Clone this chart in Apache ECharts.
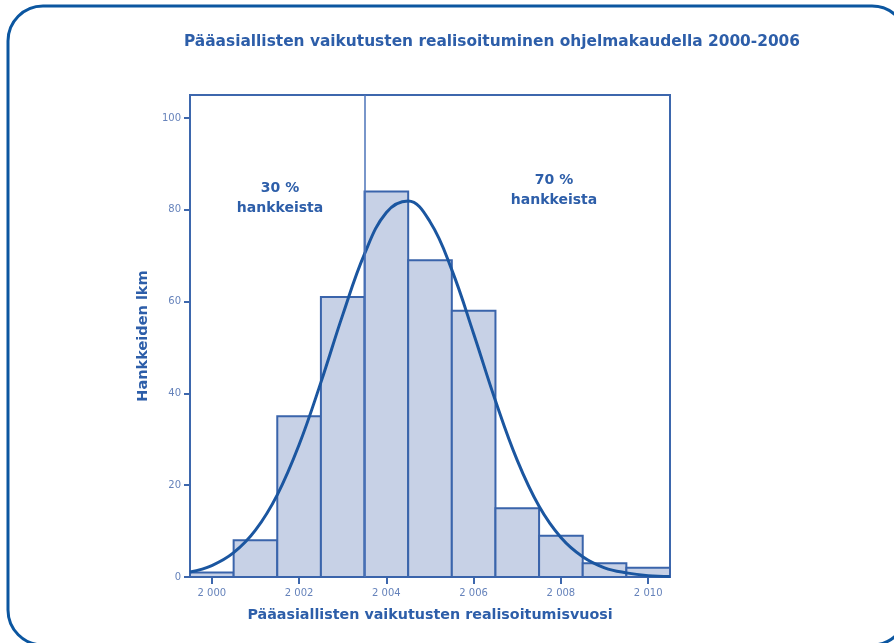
<!DOCTYPE html>
<html>
<head>
<meta charset="utf-8">
<script src="https://cdn.jsdelivr.net/npm/echarts@6/dist/echarts.min.js"></script>
<style>
  html, body { margin: 0; padding: 0; background: #ffffff; }
  #chart { width: 894px; height: 643px; }
</style>
</head>
<body>
<div id="chart"></div>
<script>
// Realisation year of the main effects: project counts per year
const years = [2000, 2001, 2002, 2003, 2004, 2005, 2006, 2007, 2008, 2009, 2010];
const counts = [1, 8, 35, 61, 84, 69, 58, 15, 9, 3, 2];

// Fitted normal curve, read at half-year steps
const curveYears = [1999.5, 2000, 2000.5, 2001, 2001.5, 2002, 2002.5, 2003, 2003.5, 2004, 2004.5,
                    2005, 2005.5, 2006, 2006.5, 2007, 2007.5, 2008, 2008.5, 2009, 2009.5, 2010, 2010.5];
const curveValues = [1.1, 2.5, 5.3, 10.2, 17.9, 28.8, 42.4, 57.1, 70.4, 79.4, 81.9,
                     77.4, 66.9, 53.0, 38.4, 25.4, 15.4, 8.6, 4.4, 2.0, 0.9, 0.3, 0.1];

// Axis ticks and the 30 % / 70 % split
const xTicks = [2000, 2002, 2004, 2006, 2008, 2010];
const yTicks = [0, 20, 40, 60, 80, 100];
const splitYear = 2003.5;

const blue = '#2d5ea9';
const axisBlue = '#3d67ad';
const tickText = '#6683bb';
const font = '"DejaVu Sans", Verdana, sans-serif';

const chart = echarts.init(document.getElementById('chart'));

chart.setOption({
  backgroundColor: '#ffffff',
  animation: false,
  title: {
    text: 'Pääasiallisten vaikutusten realisoituminen ohjelmakaudella 2000-2006',
    left: 487,
    top: 29,
    textAlign: 'center',
    textStyle: { color: blue, fontSize: 15.4, fontWeight: 'bold', fontFamily: font }
  },
  graphic: [
    {
      type: 'rect',
      shape: { x: 8, y: 6, width: 899, height: 639, r: 35 },
      style: { fill: 'none', stroke: '#0b56a0', lineWidth: 3 },
      silent: true
    },
    {
      type: 'text',
      x: 280, y: 178,
      style: {
        text: '30 %\nhankkeista', align: 'center', verticalAlign: 'top',
        fill: blue, font: 'bold 14px ' + font, lineHeight: 20
      }
    },
    {
      type: 'text',
      x: 554, y: 170,
      style: {
        text: '70 %\nhankkeista', align: 'center', verticalAlign: 'top',
        fill: blue, font: 'bold 14px ' + font, lineHeight: 20
      }
    }
  ],
  grid: {
    left: 190, right: 224, top: 95, bottom: 66,
    show: true, borderColor: axisBlue, borderWidth: 2, backgroundColor: 'transparent'
  },
  xAxis: {
    type: 'value',
    min: 1999.5,
    max: 2010.5,
    name: 'Pääasiallisten vaikutusten realisoitumisvuosi',
    nameLocation: 'middle',
    nameGap: 31,
    nameTextStyle: { color: blue, fontSize: 14.3, fontWeight: 'bold', fontFamily: font },
    axisLine: { lineStyle: { color: axisBlue, width: 2 } },
    axisTick: { show: true, length: 7, customValues: xTicks, lineStyle: { color: axisBlue, width: 2 } },
    axisLabel: {
      customValues: xTicks,
      color: tickText, fontSize: 10, margin: 11, fontFamily: font,
      formatter: v => String(v).replace(/^(\d)(\d{3})$/, '$1 $2')
    },
    splitLine: { show: false }
  },
  yAxis: {
    type: 'value',
    min: 0,
    max: 105,
    name: 'Hankkeiden lkm',
    nameLocation: 'middle',
    nameGap: 37,
    nameTextStyle: { color: blue, fontSize: 14.5, fontWeight: 'bold', fontFamily: font },
    axisLine: { show: true, lineStyle: { color: axisBlue, width: 2 } },
    axisTick: { show: true, length: 6, customValues: yTicks, lineStyle: { color: axisBlue, width: 2 } },
    axisLabel: { customValues: yTicks, color: tickText, fontSize: 10, margin: 9, fontFamily: font },
    splitLine: { show: false }
  },
  series: [
    {
      // histogram bars, one year wide
      type: 'custom',
      data: years.map((y, i) => [y, counts[i]]),
      renderItem: function (params, api) {
        const x = api.value(0);
        const v = api.value(1);
        const p0 = api.coord([x - 0.5, 0]);
        const p1 = api.coord([x + 0.5, v]);
        return {
          type: 'rect',
          shape: { x: p0[0], y: p1[1], width: p1[0] - p0[0], height: p0[1] - p1[1] },
          style: { fill: '#c7d1e6', stroke: '#3a64ab', lineWidth: 2 }
        };
      },
      z: 2
    },
    {
      type: 'line',
      data: curveYears.map((y, i) => [y, curveValues[i]]),
      smooth: 0.4,
      showSymbol: false,
      lineStyle: { color: '#1b56a0', width: 3 },
      z: 3,
      markLine: {
        silent: true,
        symbol: 'none',
        label: { show: false },
        lineStyle: { color: '#4d73b8', width: 1.5, type: 'solid' },
        data: [{ xAxis: splitYear }]
      }
    }
  ]
});
</script>
</body>
</html>
